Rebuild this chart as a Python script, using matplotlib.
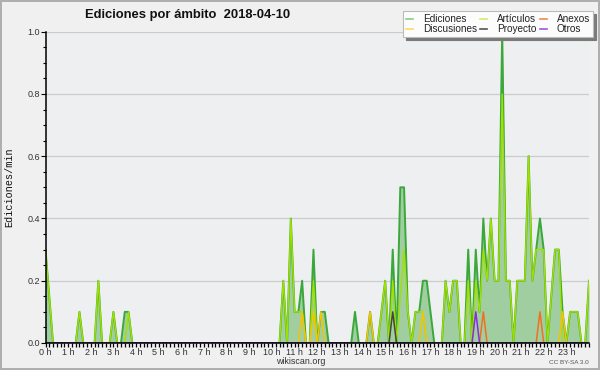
import matplotlib
matplotlib.use("Agg")
import matplotlib.pyplot as plt
import numpy as np
from matplotlib.lines import Line2D
from matplotlib.patches import Rectangle
from matplotlib.ticker import MultipleLocator, FixedLocator

# ---------------- data (edits per minute, 10-minute steps 0:00 .. 24:00) -------------
title = "Ediciones por ámbito  2018-04-10"
hour_labels = [f"{h} h" for h in range(24)]
y_labels = ["0.0", "0.2", "0.4", "0.6", "0.8", "1.0"]

ediciones = [
    0.3, 0.15, 0, 0, 0, 0, 0, 0, 0, 0.1, 0, 0,          # 0h-2h
    0, 0, 0.2, 0, 0, 0, 0.1, 0, 0, 0.1, 0.1, 0,         # 2h-4h
    0, 0, 0, 0, 0, 0, 0, 0, 0, 0, 0, 0,                 # 4h-6h
    0, 0, 0, 0, 0, 0, 0, 0, 0, 0, 0, 0,                 # 6h-8h
    0, 0, 0, 0, 0, 0, 0, 0, 0, 0, 0, 0,                 # 8h-10h
    0, 0, 0, 0.2, 0, 0.4, 0.1, 0.1, 0.2, 0, 0, 0.3,     # 10h-12h
    0, 0.1, 0.1, 0, 0, 0, 0, 0, 0, 0, 0.1, 0,           # 12h-14h
    0, 0, 0.1, 0, 0, 0.1, 0.2, 0, 0.3, 0, 0.5, 0.5,     # 14h-16h
    0.1, 0, 0.1, 0.1, 0.2, 0.2, 0.1, 0, 0, 0, 0.2, 0.1, # 16h-18h
    0.2, 0.2, 0, 0, 0.3, 0, 0.3, 0.1, 0.4, 0.2, 0.4, 0.2,  # 18h-20h
    0.2, 1.0, 0.2, 0.2, 0, 0.2, 0.2, 0.2, 0.6, 0.2, 0.3, 0.4,  # 20h-22h
    0.3, 0, 0.15, 0.3, 0.3, 0.1, 0, 0.1, 0.1, 0.1, 0, 0,  # 22h-24h
    0.2,
]
articulos = [
    0.3, 0.15, 0, 0, 0, 0, 0, 0, 0, 0.1, 0, 0,
    0, 0, 0.2, 0, 0, 0, 0.1, 0, 0, 0, 0.1, 0,
    0, 0, 0, 0, 0, 0, 0, 0, 0, 0, 0, 0,
    0, 0, 0, 0, 0, 0, 0, 0, 0, 0, 0, 0,
    0, 0, 0, 0, 0, 0, 0, 0, 0, 0, 0, 0,
    0, 0, 0, 0.2, 0, 0.4, 0.1, 0.1, 0.1, 0, 0, 0.2,
    0, 0, 0, 0, 0, 0, 0, 0, 0, 0, 0, 0,
    0, 0, 0, 0, 0, 0.1, 0.2, 0, 0.2, 0, 0.15, 0.3,
    0.1, 0, 0.1, 0.1, 0.1, 0, 0, 0, 0, 0, 0.2, 0.1,
    0.2, 0.2, 0, 0, 0.2, 0, 0.2, 0.1, 0.3, 0.2, 0.4, 0.2,
    0.2, 0.8, 0.2, 0.2, 0, 0.2, 0.2, 0.2, 0.6, 0.2, 0.3, 0.3,
    0.3, 0, 0.15, 0.3, 0.3, 0, 0, 0.1, 0.1, 0.1, 0, 0,
    0.2,
]
discusiones = [
    0, 0, 0, 0, 0, 0, 0, 0, 0, 0, 0, 0,
    0, 0, 0, 0, 0, 0, 0, 0, 0, 0, 0, 0,
    0, 0, 0, 0, 0, 0, 0, 0, 0, 0, 0, 0,
    0, 0, 0, 0, 0, 0, 0, 0, 0, 0, 0, 0,
    0, 0, 0, 0, 0, 0, 0, 0, 0, 0, 0, 0,
    0, 0, 0, 0, 0, 0, 0, 0, 0.1, 0, 0, 0.1,
    0, 0.1, 0, 0, 0, 0, 0, 0, 0, 0, 0, 0,
    0, 0, 0.1, 0, 0, 0, 0, 0, 0, 0, 0, 0,
    0, 0, 0, 0, 0.1, 0, 0, 0, 0, 0, 0, 0,
    0, 0, 0, 0, 0, 0, 0, 0, 0, 0, 0, 0,
    0, 0, 0, 0, 0, 0, 0, 0, 0, 0, 0, 0,
    0, 0, 0, 0, 0, 0.1, 0, 0, 0, 0, 0, 0,
    0,
]
anexos = [0] * 116 + [0.1] + [0] * 14 + [0.1] + [0] * 13
proyecto = [0] * 92 + [0.1] + [0] * 52
otros = [0] * 114 + [0.1] + [0] * 30

# ---------------- style ----------------
FONT = "Liberation Sans"
BG = "#f0f0f0"
AX_BG = "#eeeff1"
C_ED = "#3aa83a"
C_ED_FILL = "#a0cea0"
C_ART = "#a2e000"
C_DISC = "#f5c400"
C_ANX = "#f07020"
C_PROY = "#444444"
C_OTR = "#8a2be2"

fig = plt.figure(figsize=(6.0, 3.7), dpi=100, facecolor=BG)
ax = fig.add_axes([45.5 / 600, 27 / 370, 543.5 / 600, 311.3 / 370])
ax.set_facecolor(AX_BG)

n = len(ediciones)
x = np.arange(n) / 6.0

ax.fill_between(x, 0, ediciones, color=C_ED_FILL, lw=0, zorder=1.5)
ax.plot(x, ediciones, color=C_ED, lw=1.4, zorder=2)
ax.plot(x, articulos, color=C_ART, lw=1.0, zorder=2.05)
ax.plot(x, discusiones, color=C_DISC, lw=1.1, zorder=2.1)
ax.plot(x, anexos, color=C_ANX, lw=1.1, zorder=2.1)
ax.plot(x, proyecto, color=C_PROY, lw=1.1, zorder=2.1)
ax.plot(x, otros, color=C_OTR, lw=1.1, zorder=2.1)

ax.set_xlim(0, 24)
ax.set_ylim(0, 1.0)

for v in [0.2, 0.4, 0.6, 0.8, 1.0]:
    ax.axhline(v, color="#cccccc", lw=0.9, zorder=1)

ax.xaxis.set_major_locator(FixedLocator(np.arange(24)))
ax.set_xticklabels(hour_labels)
ax.xaxis.set_minor_locator(MultipleLocator(1 / 6))
ax.yaxis.set_major_locator(FixedLocator([0, 0.2, 0.4, 0.6, 0.8, 1.0]))
ax.set_yticklabels(y_labels)
ax.yaxis.set_minor_locator(MultipleLocator(0.05))

ax.tick_params(axis="x", which="both", direction="out", length=2.6, width=0.9,
               color="black", pad=0.8, labelsize=6.5, labelcolor="#333333")
ax.tick_params(axis="y", which="major", direction="out", length=3.6, width=0.8,
               color="black", pad=0.3, labelsize=6.5, labelcolor="#333333")
ax.tick_params(axis="y", which="minor", direction="out", length=2.0, width=0.8, color="black")
for lab in ax.get_xticklabels() + ax.get_yticklabels():
    lab.set_family(FONT)

for s in ["top", "right"]:
    ax.spines[s].set_visible(False)
for s in ["left", "bottom"]:
    ax.spines[s].set_linewidth(1.1)
    ax.spines[s].set_color("black")
    ax.spines[s].set_zorder(3)

fig.text(188 / 600, 1 - 15 / 370, title, family=FONT, weight="bold", size=9.4,
         ha="center", va="center", color="#111111")
fig.text(9.5 / 600, 1 - 187.5 / 370, "Ediciones/min", family="Liberation Mono",
         size=7.3, rotation=90, ha="center", va="center", color="#111111")
fig.text(300.5 / 600, 1 - 361.5 / 370, "wikiscan.org", family=FONT, size=6.4,
         ha="center", va="center", color="#333333")
fig.text(589 / 600, 1 - 363 / 370, "CC BY-SA 3.0", family=FONT, size=4.6,
         ha="right", va="center", color="#555555")

handles = [
    Line2D([], [], color="#88cc88", lw=1.2),
    Line2D([], [], color="#ffd966", lw=1.2),
    Line2D([], [], color="#cdee70", lw=1.2),
    Line2D([], [], color="#555555", lw=1.2),
    Line2D([], [], color="#ee8855", lw=1.2),
    Line2D([], [], color="#9955ee", lw=1.2),
]
labels = ["Ediciones", "Discusiones", "Artículos", "Proyecto", "Anexos", "Otros"]
leg = fig.legend(handles, labels, ncol=3, loc="upper right",
                 bbox_to_anchor=(593 / 600, 1 - 11 / 370),
                 prop={"family": FONT, "size": 7.2}, frameon=True, fancybox=False,
                 handlelength=0.7, handletextpad=1.0, columnspacing=0.3,
                 labelspacing=0.0, borderpad=0.3, borderaxespad=0,
                 shadow={"color": "#7a7a7a", "alpha": 1.0})
leg.get_frame().set_facecolor("#fcfcfc")
leg.get_frame().set_edgecolor("#bbbbbb")
leg.get_frame().set_linewidth(0.8)
for t in leg.get_texts():
    t.set_color("#222222")

fig.patches.append(Rectangle((0.001, 0.002), 0.997, 0.996, transform=fig.transFigure,
                             fill=False, ec="#a8a8a8", lw=1.3))

fig.savefig("out.png", dpi=100, facecolor=BG)
